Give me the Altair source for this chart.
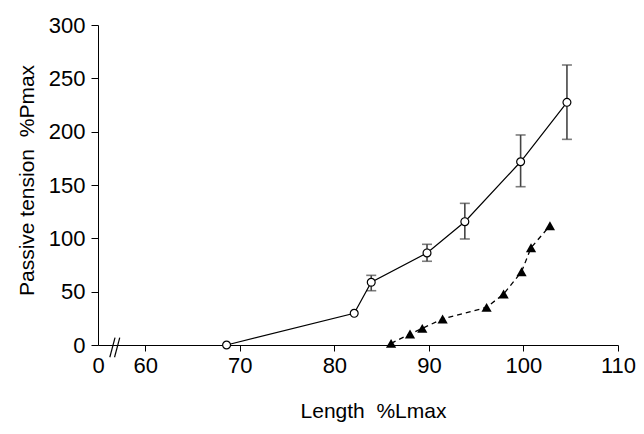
import altair as alt
import pandas as pd

# Open circles (mean with SD)
circ_x = [68.6, 82.1, 83.9, 89.8, 93.8, 99.7, 104.6]
circ_y = [0, 29.7, 58.8, 86.3, 115.6, 171.8, 227.5]
err_x = [83.9, 89.8, 93.8, 99.7, 104.6]
err_lo = [50.9, 78.5, 99.4, 148.4, 192.8]
err_hi = [65.3, 94.4, 132.8, 196.9, 262.5]

# Filled triangles
tri_x = [86.0, 88.0, 89.3, 91.45, 96.1, 97.9, 99.8, 100.8, 102.8]
tri_y = [1.5, 10.3, 15.6, 24.4, 35.3, 47.8, 68.7, 91.2, 111.8]

x_ticks = [55, 60, 70, 80, 90, 100, 110]
y_ticks = [0, 50, 100, 150, 200, 250, 300]

# axis-break marks "//"
brk_x = [56.25, 56.75]
brk_x2 = [56.8, 57.3]
brk_y = [-11.5, -11.5]
brk_y2 = [7.0, 7.0]

NB = "\u00a0"
x_title = "Length" + NB + NB + "%Lmax"
y_title = "Passive tension" + NB + NB + "%Pmax"

FONT = "Liberation Sans, Arial, sans-serif"

circ = pd.DataFrame({"x": circ_x, "y": circ_y})
tri = pd.DataFrame({"x": tri_x, "y": tri_y})
err = pd.DataFrame({"x": err_x, "lo": err_lo, "hi": err_hi})
caps = pd.DataFrame({"x": err_x + err_x, "y": err_lo + err_hi})
brk = pd.DataFrame({"x": brk_x, "x2": brk_x2, "y": brk_y, "y2": brk_y2})

xscale = alt.Scale(domain=[55, 110], nice=False, zero=False)
yscale = alt.Scale(domain=[0, 300], nice=False)

xaxis = alt.Axis(
    values=x_ticks,
    labelExpr="datum.value == 55 ? '0' : datum.label",
    labelFlush=False,
    title=x_title,
    grid=False,
    tickSize=6,
    labelPadding=4,
    titleX=275,
    titleY=72,
    titleAlign="center",
    titleBaseline="alphabetic",
    tickColor={"condition": {"test": "datum.value == 55", "value": "transparent"}, "value": "black"},
)
yaxis = alt.Axis(
    values=y_ticks,
    title=y_title,
    grid=False,
    labelFlush=False,
    tickSize=7,
    labelPadding=6,
    titleAngle=-90,
    titleX=-65,
    titleY=155,
    titleAlign="center",
    titleBaseline="alphabetic",
)

X = alt.X("x:Q", scale=xscale, axis=xaxis)
Y = alt.Y("y:Q", scale=yscale, axis=yaxis)

line_c = alt.Chart(circ).mark_line(color="black", strokeWidth=1.2).encode(x=X, y=Y)
line_t = alt.Chart(tri).mark_line(color="black", strokeWidth=1.3, strokeDash=[5, 4]).encode(x="x:Q", y="y:Q")
bars = alt.Chart(err).mark_rule(color="#444444", strokeWidth=1.6).encode(x="x:Q", y="lo:Q", y2="hi:Q")
capm = alt.Chart(caps).mark_tick(color="#444444", orient="horizontal", size=10, thickness=1.6).encode(x="x:Q", y="y:Q")
pts_c = alt.Chart(circ).mark_point(shape="circle", filled=True, fill="white", stroke="black",
                                    strokeWidth=1.2, size=62, opacity=1).encode(x="x:Q", y="y:Q")
pts_t = alt.Chart(tri).mark_point(shape="triangle-up", filled=True, color="black", size=105,
                                   opacity=1).encode(x="x:Q", y="y:Q")
brks = alt.Chart(brk).mark_rule(color="black", strokeWidth=1.2, clip=False).encode(
    x="x:Q", x2="x2:Q", y="y:Q", y2="y2:Q")

chart = alt.layer(bars, capm, line_c, line_t, pts_c, pts_t, brks).properties(
    width=520,
    height=320,
    autosize=alt.AutoSizeParams(type="none"),
    padding={"left": 90, "top": 17, "right": 18, "bottom": 81},
).configure_view(stroke=None).configure_axis(
    domainColor="black",
    domainWidth=1,
    tickColor="black",
    tickWidth=1,
    labelFont=FONT,
    titleFont=FONT,
    labelFontSize=22,
    titleFontSize=21,
    labelColor="black",
    titleColor="black",
    titleFontWeight="normal",
)

chart.save("out.html", embed_options={"renderer": "svg", "actions": False})
